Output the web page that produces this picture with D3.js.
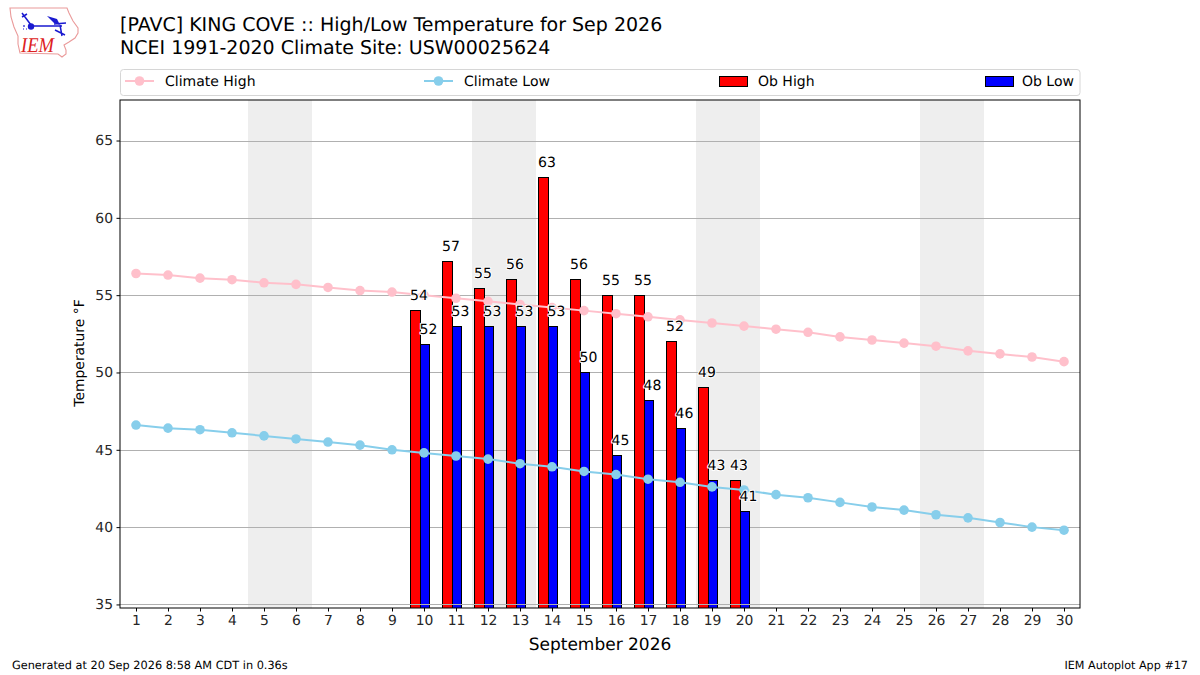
<!DOCTYPE html>
<html><head><meta charset="utf-8">
<script src="https://cdn.jsdelivr.net/npm/d3@7/dist/d3.min.js"></script>
<style>html,body{margin:0;padding:0;background:#fff}svg{display:block}text{font-family:"DejaVu Sans",sans-serif;fill:#000;text-rendering:geometricPrecision}</style>
</head><body><svg id="c" width="1200" height="675"></svg>
<script>
const days = d3.range(1, 31);
const climateHigh = [56.4,56.3,56.1,56.0,55.8,55.7,55.5,55.3,55.2,55.0,54.8,54.6,54.4,54.2,54.0,53.8,53.6,53.4,53.2,53.0,52.8,52.6,52.3,52.1,51.9,51.7,51.4,51.2,51.0,50.7];
const climateLow = [46.6,46.4,46.3,46.1,45.9,45.7,45.5,45.3,45.0,44.8,44.6,44.4,44.1,43.9,43.6,43.4,43.1,42.9,42.6,42.4,42.1,41.9,41.6,41.3,41.1,40.8,40.6,40.3,40.0,39.8];
const obDays = [10,11,12,13,14,15,16,17,18,19,20];
const obHigh = [54,57.2,55.4,56,62.6,56,55,55,52,49,43];
const obLow = [51.8,53,53,53,53,50,44.6,48.2,46.4,43,41];
const obHighLabels = [54,57,55,56,63,56,55,55,52,49,43];
const obLowLabels = [52,53,53,53,53,50,45,48,46,43,41];
const weekendBands = [[4.5,6.5],[11.5,13.5],[18.5,20.5],[25.5,27.5]];
const yTicks = [35,40,45,50,55,60,65];
const titleLines = ["[PAVC] KING COVE :: High/Low Temperature for Sep 2026","NCEI 1991-2020 Climate Site: USW00025624"];
const legendNames = ["Climate High","Climate Low","Ob High","Ob Low"];

const svg = d3.select("#c");
const L=120,R=1080,T=100,B=608;
const x = d3.scaleLinear().domain([0.5,30.5]).range([L,R]);
const y = d3.scaleLinear().domain([34.77,67.62]).range([B,T]);
const HI="#ffc0cb", LO="#87ceeb";

// logo
const logo = svg.append("g");
logo.append("path").attr("d","M10,8 L67,8 L69,13 L73,21 L78,28 L78,33 L75,38 L69,42 L64,45 L66,50 L66,54 L62,57 L58,54 L20,53 L18,44 L18,36 L14,27 L11,17Z").attr("fill","#fff").attr("stroke","#ea9a9a").attr("stroke-width",1.1);
logo.append("path").attr("d","M32,26 L62,26 M54,24 L66,23 M60,25 L62,36 M55,30 L65,35 M22,13 L31,25 M22,17 L27,14").attr("fill","none").attr("stroke","#1a1ad0").attr("stroke-width",1.5);
logo.append("path").attr("d","M47,16 L57,19 L60,25 L54,23Z").attr("fill","#1a1ad0");
logo.append("circle").attr("cx",31).attr("cy",26.5).attr("r",3.2).attr("fill","#1a1ad0");
logo.append("path").attr("d","M24,25 v2 M23,29 h1 M26,29 h1").attr("stroke","#1a1ad0").attr("stroke-width",1.2);
logo.append("text").attr("x",21).attr("y",52).attr("font-size",21).attr("font-style","italic").attr("textLength",33).attr("lengthAdjust","spacingAndGlyphs").style("font-family","Liberation Serif").style("fill","#d22").text("IEM");

// titles
titleLines.forEach((t,i)=>svg.append("text").attr("x",120).attr("y",31+i*23).attr("font-size",19).text(t));

// legend
svg.append("rect").attr("x",120.5).attr("y",69.5).attr("width",959.5).attr("height",26).attr("rx",3).attr("fill","#fff").attr("stroke","#d6d6d6");
[[125,HI,0],[424,LO,1]].forEach(([lx,c,i])=>{
  svg.append("line").attr("x1",lx).attr("x2",lx+29).attr("y1",81).attr("y2",81).attr("stroke",c).attr("stroke-width",2);
  svg.append("circle").attr("cx",lx+14.5).attr("cy",81).attr("r",4.8).attr("fill",c);
  svg.append("text").attr("x",lx+40).attr("y",86).attr("font-size",14).text(legendNames[i]);
});
[[719,"#ff0000",2,758],[985,"#0000ff",3,1022]].forEach(([lx,c,i,tx])=>{
  svg.append("rect").attr("x",lx+.5).attr("y",76.5).attr("width",28).attr("height",10).attr("fill",c).attr("stroke","#000");
  svg.append("text").attr("x",tx).attr("y",86).attr("font-size",14).text(legendNames[i]);
});

// plot area
const defs = svg.append("defs");
defs.append("clipPath").attr("id","plot").append("rect").attr("x",L).attr("y",T).attr("width",R-L).attr("height",B-T);
const plot = svg.append("g").attr("clip-path","url(#plot)");
plot.selectAll(".band").data(weekendBands).join("rect").attr("x",d=>x(d[0])).attr("width",d=>x(d[1])-x(d[0])).attr("y",T).attr("height",B-T).attr("fill","#eeeeee");
const grid = vals => plot.selectAll(null).data(vals).join("line").attr("x1",L).attr("x2",R).attr("y1",d=>Math.round(y(d))+.5).attr("y2",d=>Math.round(y(d))+.5).attr("stroke","#b0b0b0").attr("stroke-width",1);
grid(yTicks);
const snap = v => Math.floor(v)+.5;
const bars = (vals,a,b,col)=>plot.selectAll(null).data(vals).join("rect")
  .attr("x",(d,i)=>snap(x(obDays[i]+a))).attr("width",(d,i)=>snap(x(obDays[i]+b))-snap(x(obDays[i]+a)))
  .attr("y",d=>snap(y(d))).attr("height",d=>B+5-snap(y(d)))
  .attr("fill",col).attr("stroke","#000").attr("stroke-width",1);
bars(obHigh,-0.43,-0.12,"#ff0000");
bars(obLow,-0.12,0.18,"#0000ff");
grid([35]);
const line = d3.line().x((d,i)=>x(days[i])).y(d=>y(d));
[[climateHigh,HI],[climateLow,LO]].forEach(([s,c])=>{
  plot.append("path").attr("d",line(s)).attr("fill","none").attr("stroke",c).attr("stroke-width",2);
  plot.selectAll(null).data(s).join("circle").attr("cx",(d,i)=>x(days[i])).attr("cy",d=>y(d)).attr("r",4.8).attr("fill",c);
});
const labels=(vals,labs,off)=>svg.selectAll(null).data(vals).join("text")
  .attr("x",(d,i)=>x(obDays[i])+off).attr("y",d=>y(d)-10.5).attr("text-anchor","middle").attr("font-size",14)
  .attr("stroke","#fff").attr("stroke-width",2).attr("paint-order","stroke").attr("stroke-linejoin","round").text((d,i)=>labs[i]);
labels(obHigh,obHighLabels,-5);
labels(obLow,obLowLabels,4.5);

// axes
const ax = svg.append("g").attr("transform",`translate(0,${B})`).call(d3.axisBottom(x).tickValues(days).tickFormat(d3.format("d")).tickSize(3.5).tickPadding(3.5));
const ay = svg.append("g").attr("transform",`translate(${L},0)`).call(d3.axisLeft(y).tickValues(yTicks).tickSize(3.5).tickPadding(3.5));
[ax,ay].forEach(a=>{a.select(".domain").remove();a.selectAll("text").attr("font-size",13.9).style("font-family","DejaVu Sans").style("fill","#262626");a.selectAll("line").attr("stroke","#000");});
svg.append("rect").attr("x",L).attr("y",T).attr("width",R-L).attr("height",B-T).attr("fill","none").attr("stroke","#000").attr("stroke-width",1);

svg.append("text").attr("x",600).attr("y",650).attr("text-anchor","middle").attr("font-size",17).text("September 2026");
svg.append("text").attr("transform","translate(84,353) rotate(-90)").attr("text-anchor","middle").attr("font-size",13.9).text("Temperature °F");
svg.append("text").attr("x",12).attr("y",669).attr("font-size",11.3).text("Generated at 20 Sep 2026 8:58 AM CDT in 0.36s");
svg.append("text").attr("x",1188).attr("y",669).attr("text-anchor","end").attr("font-size",11.2).text("IEM Autoplot App #17");
</script></body></html>
